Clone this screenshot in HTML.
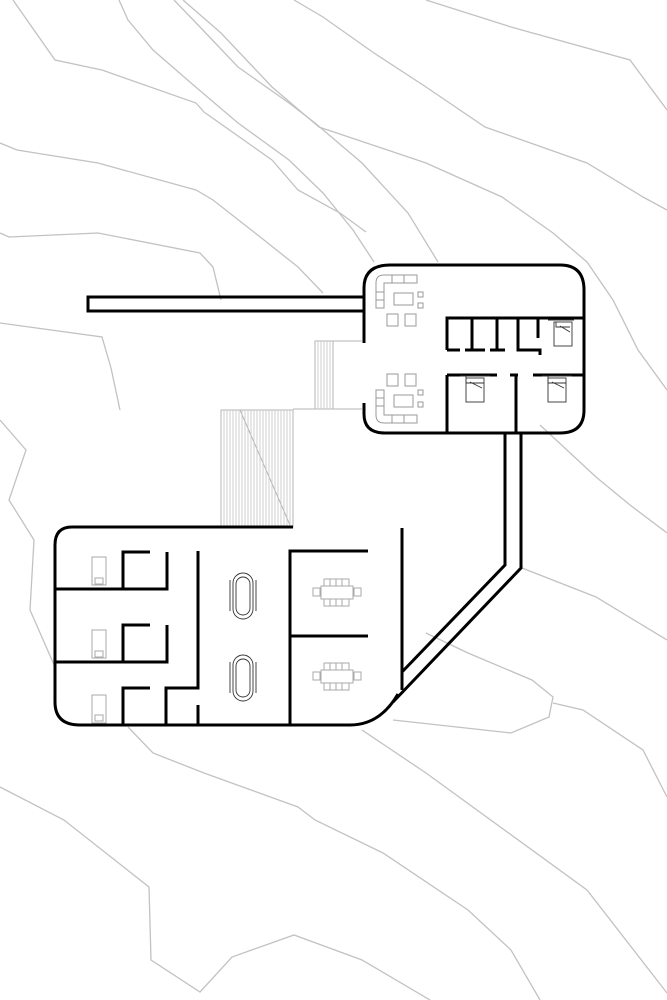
<!DOCTYPE html>
<html><head><meta charset="utf-8"><style>html,body{margin:0;padding:0;background:#fff}svg{display:block}</style></head>
<body>
<svg width="667" height="1000" viewBox="0 0 667 1000" xmlns="http://www.w3.org/2000/svg">
<g fill="none" stroke="#c2c2c2" stroke-width="1.3">
<polyline points="13,0 55,60 102,70 196,103 204,112 272,160 298,190 340,213 366,232"/>
<polyline points="119,0 128,20 153,50 191,83 238,123 289,160 323,193 353,230 374,262"/>
<polyline points="174,0 200,27 238,67 289,103 315,123 362,163 408,213 438,262"/>
<polyline points="183,0 221,33 272,87 319,127 426,163 502,197 553,233 587,262 613,300 638,350 667,390"/>
<polyline points="294,0 323,17 374,53 426,87 485,127 587,163 643,197 667,210"/>
<polyline points="426,0 511,27 630,60 667,110"/>
<polyline points="0,143 17,150 98,163 196,190 213,200 264,240 298,267 323,293"/>
<polyline points="0,233 9,237 98,233 200,253 213,267 221,300"/>
<polyline points="0,323 102,337 111,368 120,410"/>
<polyline points="0,420 26,450 9,500 34,540 30,610 55,667"/>
<polyline points="128,727 153,753 204,773 298,807 315,820 383,853 468,910 511,950 540,1000"/>
<polyline points="0,787 64,820 149,887 151,960 200,992 232,957 294,935 362,960 430,1000"/>
<polyline points="522,568 596,597 667,640"/>
<polyline points="362,730 426,773 587,890 667,993"/>
<polyline points="393,720 511,733 549,717 553,697 532,680 468,653 426,633"/>
<polyline points="553,703 583,710 643,750 667,797"/>
<polyline points="540,425 596,477 630,505 667,533"/>
</g>
<!-- stairs -->
<g stroke="#b5b5b5" stroke-width="1" fill="none">
<rect x="315" y="341" width="18" height="68"/>
<line x1="333" y1="341" x2="362" y2="341"/>
<line x1="293" y1="409" x2="362" y2="409"/>
<rect x="221" y="410" width="72" height="117"/>
<line x1="240" y1="410" x2="290" y2="525"/>
</g>
<g stroke="#c4c4c4" stroke-width="0.8">
<path d="M318 341V409M321 341V409M324 341V409M327 341V409M330 341V409"/>
<path d="M224 410V527M227 410V527M230 410V527M233 410V527M236 410V527M239 410V527M242 410V527M245 410V527M248 410V527M251 410V527M254 410V527M257 410V527M260 410V527M263 410V527M266 410V527M269 410V527M272 410V527M275 410V527M278 410V527M281 410V527M284 410V527M287 410V527M290 410V527"/>
</g>
<!-- black walls -->
<g fill="none" stroke="#000" stroke-width="3">
<rect x="88" y="297" width="276" height="14"/>
<path d="M364 343V288Q364 265 390 265H560Q584 265 584 290V410Q584 433 560 433H385Q364 433 364 414V403"/>
<path d="M447 350V318H584M447 350H460M465 350H485M472 318V350M490 350H505M497 318V350M518 318V350H540V355M538 318V338"/>
<path d="M447 375H497M510 375H518M533 375H584M447 375V433M516 375V433"/>
<path d="M505 433V565L402 672M521 433V568L393 702"/>
<path d="M293 527H72Q55 527 55 545V702Q55 725 80 725H350Q380 725 398 694"/>
<path d="M402 528V690"/>
<path d="M55 589H167V552M123 589V552H150M55 662H167V625M123 662V625H150"/>
<path d="M123 725V688H150M166 725V688H198V551M198 705V725"/>
<path d="M290 725V551H368M290 636H368"/>
</g>
<!-- furniture gray -->
<g fill="none" stroke="#9a9a9a" stroke-width="1">
<path d="M376 308V283Q376 275 384 275H417V283H384V308Z"/><path d="M392 275V283M404 275V283M376 292H384M376 300H384"/>
<rect x="394" y="293" width="19" height="12"/><rect x="418" y="292" width="5" height="5"/><rect x="418" y="303" width="5" height="5"/>
<rect x="387" y="314" width="11" height="12"/><rect x="405" y="314" width="11" height="12"/>
<path d="M376 390V415Q376 423 384 423H417V415H384V390Z"/><path d="M392 415V423M404 415V423M376 398H384M376 406H384"/>
<rect x="394" y="395" width="19" height="12"/><rect x="418" y="390" width="5" height="5"/><rect x="418" y="402" width="5" height="5"/>
<rect x="387" y="374" width="11" height="12"/><rect x="405" y="374" width="11" height="12"/>
</g>
<g fill="none" stroke="#333" stroke-width="0.9">
<rect x="554" y="322" width="18" height="24"/><path d="M548 320H574M556 322V327H570M560 326L570 332"/>
<rect x="466" y="378" width="18" height="24"/><path d="M460 376H490M466 376V383H484M470 382L482 388"/>
<rect x="548" y="378" width="18" height="24"/><path d="M542 376H572M548 376V383H566M552 382L564 388"/>
<rect x="233" y="573" width="20" height="46" rx="10"/><rect x="236" y="577" width="14" height="38" rx="7"/>
<rect x="233" y="655" width="20" height="46" rx="10"/><rect x="236" y="659" width="14" height="38" rx="7"/>
<path d="M230 580V611M256 580V611M230 662V693M256 662V693"/>
</g>
<g fill="none" stroke="#aaa" stroke-width="1">
<rect x="92" y="557" width="14" height="28"/><rect x="95" y="578" width="8" height="6"/>
<rect x="92" y="630" width="14" height="28"/><rect x="95" y="651" width="8" height="6"/>
<rect x="92" y="695" width="14" height="28"/><rect x="95" y="715" width="8" height="6"/>
<rect x="321" y="586" width="32" height="13"/><path d="M324 579H349V586M324 579V586M330 579V586M336 579V586M342 579V586M324 599V606H349V599M330 599V606M336 599V606M342 599V606"/><rect x="313" y="588" width="7" height="8"/><rect x="354" y="588" width="7" height="8"/>
<rect x="321" y="670" width="32" height="13"/><path d="M324 663H349V670M324 663V670M330 663V670M336 663V670M342 663V670M324 683V690H349V683M330 683V690M336 683V690M342 683V690"/><rect x="313" y="672" width="7" height="8"/><rect x="354" y="672" width="7" height="8"/>
</g>
</svg>
</body></html>
